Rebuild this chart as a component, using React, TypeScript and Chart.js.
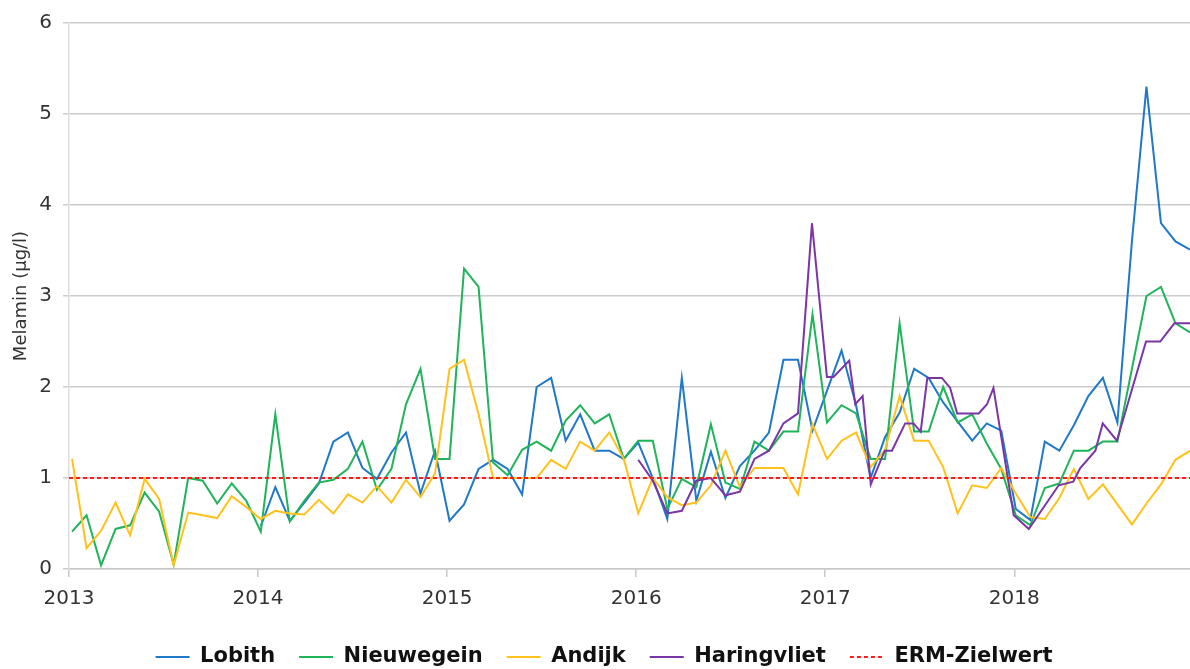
import React, { useEffect, useRef } from "react";
import { Chart, registerables } from "chart.js";

Chart.register(...registerables);

// Sampling: every 4 weeks, first sample early January 2013 (decimal years)
const SAMPLE_START = 2013.016;
const SAMPLE_STEP = 0.0768;
const SAMPLE_COUNT = 78;
const sampleDates: number[] = Array.from({ length: SAMPLE_COUNT }, (_, i) =>
  Number((SAMPLE_START + i * SAMPLE_STEP).toFixed(4))
);

const seriesNames = ["Lobith", "Nieuwegein", "Andijk", "Haringvliet", "ERM-Zielwert"];
const yearTicks = [2013, 2014, 2015, 2016, 2017, 2018];

const lobith: (number | null)[] = [
  null, null, null, null, null, null, null, null, null, null, null, null, null,
  0.47, 0.90, 0.53, 0.73, 0.94, 1.40, 1.50, 1.11, 0.99, 1.28, 1.50, 0.83, 1.30,
  0.53, 0.71, 1.10, 1.20, 1.10, 0.82, 2.00, 2.10, 1.41, 1.70, 1.30, 1.30, 1.21,
  1.39, 1.00, 0.55, 2.10, 0.75, 1.29, 0.78, 1.13, 1.30, 1.50, 2.30, 2.30, 1.52,
  1.96, 2.40, 1.80, 1.00, 1.45, 1.72, 2.20, 2.10, 1.83, 1.62, 1.41, 1.60, 1.52,
  0.66, 0.54, 1.40, 1.30, 1.58, 1.90, 2.10, 1.61, 3.60, 5.30, 3.80, 3.60, 3.51,
];

const nieuwegein: number[] = [
  0.41, 0.59, 0.04, 0.44, 0.48, 0.84, 0.63, 0.05, 1.00, 0.97, 0.72, 0.94, 0.75,
  0.41, 1.70, 0.52, 0.75, 0.95, 0.98, 1.10, 1.40, 0.87, 1.10, 1.81, 2.20, 1.21,
  1.21, 3.30, 3.10, 1.17, 1.03, 1.31, 1.40, 1.30, 1.63, 1.80, 1.60, 1.70, 1.21,
  1.41, 1.41, 0.66, 0.99, 0.90, 1.59, 0.95, 0.88, 1.40, 1.30, 1.51, 1.51, 2.80,
  1.61, 1.80, 1.71, 1.21, 1.21, 2.70, 1.51, 1.51, 2.00, 1.61, 1.70, 1.38, 1.10,
  0.59, 0.48, 0.89, 0.94, 1.30, 1.30, 1.40, 1.40, 2.20, 3.00, 3.10, 2.70, 2.60,
];

const andijk: number[] = [
  1.21, 0.23, 0.42, 0.73, 0.37, 0.99, 0.77, 0.04, 0.62, 0.59, 0.56, 0.80, 0.68,
  0.55, 0.64, 0.61, 0.60, 0.76, 0.61, 0.82, 0.73, 0.91, 0.73, 0.98, 0.79, 1.05,
  2.20, 2.30, 1.70, 1.00, 1.00, 1.00, 1.00, 1.20, 1.10, 1.40, 1.30, 1.50, 1.21,
  0.61, 1.00, 0.79, 0.70, 0.73, 0.92, 1.30, 0.90, 1.11, 1.11, 1.11, 0.82, 1.59,
  1.21, 1.41, 1.50, 1.12, 1.31, 1.90, 1.41, 1.41, 1.12, 0.61, 0.92, 0.89, 1.11,
  0.83, 0.57, 0.55, 0.78, 1.10, 0.77, 0.93, 0.71, 0.49, 0.72, 0.93, 1.20, 1.30,
];

// Haringvliet has its own (partly denser) sampling dates
const haringvlietDates: number[] = [
  2016.011, 2016.088, 2016.165, 2016.242, 2016.318, 2016.395, 2016.472, 2016.549,
  2016.626, 2016.702, 2016.779, 2016.856, 2016.930, 2017.009, 2017.044, 2017.127,
  2017.159, 2017.198, 2017.241, 2017.315, 2017.353, 2017.423, 2017.467, 2017.505,
  2017.540, 2017.617, 2017.661, 2017.698, 2017.812, 2017.856, 2017.890, 2017.926,
  2017.997, 2018.077, 2018.235, 2018.312, 2018.349, 2018.429, 2018.468, 2018.543,
  2018.697, 2018.772, 2018.847, 2018.930,
];
const haringvlietValues: number[] = [
  1.20, 0.97, 0.61, 0.64, 0.97, 1.00, 0.81, 0.85, 1.21, 1.30, 1.60, 1.71,
  3.80, 2.11, 2.11, 2.29, 1.81, 1.90, 0.93, 1.30, 1.30, 1.60, 1.60, 1.51,
  2.10, 2.10, 1.99, 1.71, 1.71, 1.81, 1.99, 1.52, 0.59, 0.44, 0.92, 0.96,
  1.11, 1.30, 1.60, 1.41, 2.50, 2.50, 2.70, 2.70,
];

const ermZielwert = 1.0;

const colors = ["#1f78c8", "#1fb35a", "#ffc21a", "#7a35a6", "#ff1a1a"];

const X_MIN = 2013;
const X_MAX = sampleDates[sampleDates.length - 1];
const FONT = "'DejaVu Sans', Verdana, sans-serif";

export default function App() {
  const ref = useRef<HTMLCanvasElement>(null);

  useEffect(() => {
    document.body.style.margin = "0";
    if (!ref.current) return;
    const toPoints = (vals: (number | null)[]) =>
      vals.map((v, i) => ({ x: sampleDates[i], y: v }));

    const defaultLabels = (Chart.defaults.plugins.legend.labels as any).generateLabels;

    const chart = new Chart(ref.current, {
      type: "line",
      data: {
        datasets: [
          { label: seriesNames[0], data: toPoints(lobith), borderColor: colors[0], backgroundColor: colors[0], borderWidth: 2, order: 5 },
          { label: seriesNames[1], data: toPoints(nieuwegein), borderColor: colors[1], backgroundColor: colors[1], borderWidth: 2, order: 4 },
          { label: seriesNames[2], data: toPoints(andijk), borderColor: colors[2], backgroundColor: colors[2], borderWidth: 2, order: 3 },
          {
            label: seriesNames[3],
            data: haringvlietDates.map((d, i) => ({ x: d, y: haringvlietValues[i] })),
            borderColor: colors[3],
            backgroundColor: colors[3],
            borderWidth: 2,
            order: 2,
          },
          {
            label: seriesNames[4],
            data: [
              { x: X_MIN, y: ermZielwert },
              { x: X_MAX, y: ermZielwert },
            ],
            borderColor: colors[4],
            backgroundColor: colors[4],
            borderWidth: 2,
            borderDash: [4, 3],
            order: 1,
          },
        ] as any,
      },
      options: {
        animation: false,
        responsive: true,
        maintainAspectRatio: false,
        layout: { padding: { top: 19, right: 0, bottom: -8.5, left: 18 } },
        elements: {
          point: { radius: 0, hoverRadius: 0 },
          line: { borderWidth: 2, tension: 0, fill: false },
        },
        font: { family: FONT },
        scales: {
          x: {
            type: "linear",
            min: X_MIN,
            max: X_MAX,
            afterFit: (s: any) => {
              s.height = 53.5;
            },
            afterBuildTicks: (s: any) => {
              s.ticks = yearTicks.map((v) => ({ value: v }));
            },
            grid: {
              display: true,
              drawOnChartArea: false,
              drawTicks: true,
              tickLength: 8,
              color: "#c8c8c8",
              lineWidth: 1.5,
            },
            border: { display: true, color: "#c8c8c8", width: 1.5 },
            ticks: {
              autoSkip: false,
              maxRotation: 0,
              padding: 10,
              color: "#333333",
              font: { size: 20, family: FONT },
              callback: (v: any) => String(v),
            },
          },
          y: {
            min: 0,
            max: 6,
            afterFit: (s: any) => {
              s.width = 51;
            },
            grid: { color: "#cccccc", lineWidth: 1.5, tickLength: 6 },
            border: { display: true, color: "#dddddd", width: 1.5 },
            ticks: {
              stepSize: 1,
              padding: 11,
              color: "#333333",
              font: { size: 20, family: FONT },
            },
            title: {
              display: true,
              text: "Melamin (µg/l)",
              color: "#333333",
              font: { size: 18, family: FONT },
              padding: { top: -7, bottom: 0 },
            },
          },
        },
        plugins: {
          legend: {
            position: "bottom",
            labels: {
              usePointStyle: true,
              pointStyle: "line",
              pointStyleWidth: 34,
              boxWidth: 34,
              padding: 24,
              color: "#111111",
              font: { size: 21, weight: "bold", family: FONT },
              sort: (a: any, b: any) => a.datasetIndex - b.datasetIndex,
              generateLabels: (c: any) =>
                defaultLabels(c).map((item: any) => {
                  const ds = c.data.datasets[item.datasetIndex];
                  return {
                    ...item,
                    strokeStyle: ds.borderColor,
                    fillStyle: ds.borderColor,
                    lineWidth: 2,
                    lineDash: ds.borderDash || [],
                  };
                }),
            },
          },
          tooltip: { enabled: false },
        },
      } as any,
    });
    return () => chart.destroy();
  }, []);

  return (
    <div style={{ position: "fixed", left: 0, top: 0, width: 1190, height: 669 }}>
      <canvas ref={ref} />
    </div>
  );
}
